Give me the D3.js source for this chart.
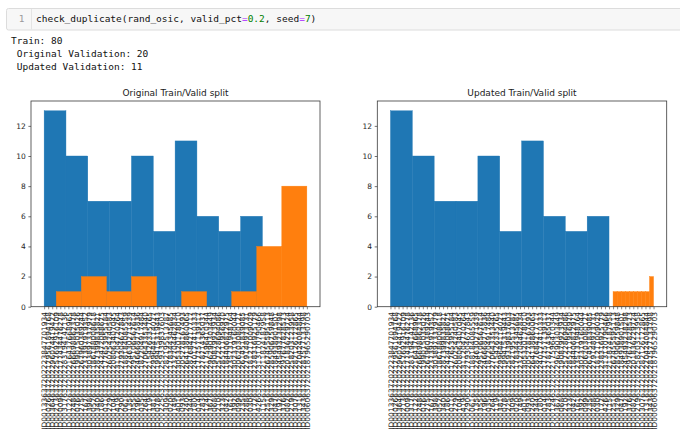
<!DOCTYPE html>
<html>
<head>
<meta charset="utf-8">
<script src="https://cdn.jsdelivr.net/npm/d3@7"></script>
<style>
  html, body { margin: 0; padding: 0; background: #fff; }
  svg { display: block; }
  .mono { font-family: "DejaVu Sans Mono", "Liberation Mono", monospace; white-space: pre; }
</style>
</head>
<body>
<script>
// ---------- data ----------
const patientIds = [
  "ID00133637202223847701934","ID00026637202179561894768","ID00364637202296074419422",
  "ID00213637202257692916109","ID00009637202177434476278","ID00317637202283194142136",
  "ID00122637202216437668965","ID00248637202266698862378","ID00076637202199015035026",
  "ID00275637202267960389244","ID00167637202237397919352","ID00398637202303897337979",
  "ID00052637202186188008618","ID00340637202287399835821","ID00186637202242472088675",
  "ID00011637202177653955184","ID00229637202260254240583","ID00104637202208063407045",
  "ID00419637202311204720264","ID00290637202279304677843","ID00061637202188184085559",
  "ID00135637202224630271439","ID00355637202295106567614","ID00196637202246668775836",
  "ID00035637202182204917484","ID00264637202270643353440","ID00119637202215426335765",
  "ID00381637202299644114027","ID00078637202199415319443","ID00225637202259339837603",
  "ID00309637202282195513787","ID00020637202178344345685","ID00149637202232704462834",
  "ID00401637202305320178010","ID00093637202205278167493","ID00240637202264138860065",
  "ID00344637202287684217717","ID00180637202240177410333","ID00014637202177757139317",
  "ID00283637202278714365037","ID00124637202217596410344","ID00367637202296290303449",
  "ID00068637202190879923934","ID00210637202257228694086","ID00323637202285211956970",
  "ID00042637202184406822975","ID00161637202235731948764","ID00392637202302319160044",
  "ID00099637202206203080121","ID00235637202261451839085","ID00288637202279148973731",
  "ID00030637202181211009029","ID00172637202238316925179","ID00426637202313170790466",
  "ID00115637202211874187958","ID00251637202267455595113","ID00329637202285906759848",
  "ID00047637202184938901501","ID00192637202245493238298","ID00376637202297677828573",
  "ID00082637202201836229724","ID00219637202258203123958","ID00307637202282126172865",
  "ID00131637202220424084844","ID00343637202287577133798","ID00060637202187965290703"
];
// histogram counts (10 bins each) and the category-index range each histogram spans
const trainCounts       = [13, 10, 7, 7, 10, 5, 11, 6, 5, 6];
const trainRange        = [0, 54];
const origValidCounts   = [1, 2, 1, 2, 0, 1, 0, 1, 4, 8];
const origValidRange    = [3, 65];
const updValidCounts    = [1, 1, 1, 1, 1, 1, 1, 1, 1, 2];
const updValidRange     = [55, 65];
const yTicks            = [0, 2, 4, 6, 8, 10, 12];
const titles            = ["Original Train/Valid split", "Updated Train/Valid split"];
const codeLine          = "check_duplicate(rand_osic, valid_pct=0.2, seed=7)";
const outputLines       = ["Train: 80", " Original Validation: 20", " Updated Validation: 11"];

// ---------- drawing ----------
const W = 680, H = 446;
const svg = d3.select("body").append("svg").attr("width", W).attr("height", H);

// notebook input cell
svg.append("rect").attr("x", 6.5).attr("y", 8.5).attr("width", 690).attr("height", 21.5)
  .attr("fill", "#f7f7f7").attr("stroke", "#dcdcdc").attr("rx", 2);
svg.append("line").attr("x1", 31.5).attr("x2", 31.5).attr("y1", 9).attr("y2", 29.5)
  .attr("stroke", "#e4e4e4");
svg.append("text").attr("class", "mono").attr("x", 24.5).attr("y", 22)
  .attr("text-anchor", "end").attr("font-size", 9.5).attr("fill", "#9a9a9a").text("1");

const code = svg.append("text").attr("class", "mono").attr("x", 36).attr("y", 22)
  .attr("font-size", 9.5).attr("fill", "#111");
codeLine.split(/(=|\b\d+(?:\.\d+)?\b)/).filter(s => s.length).forEach(tok => {
  let fill = "#111";
  if (tok === "=") fill = "#aa22ff";
  else if (/^\d+(\.\d+)?$/.test(tok)) fill = "#008000";
  code.append("tspan").attr("fill", fill).text(tok);
});

const outBase = [44.3, 57.3, 70.3];
outputLines.forEach((l, i) => {
  svg.append("text").attr("class", "mono").attr("x", 11).attr("y", outBase[i])
    .attr("font-size", 9.5).attr("fill", "#111").text(l);
});

// charts
const nCat = patientIds.length;
const pad = (nCat - 1) * 0.05;
const yMax = d3.max(trainCounts.concat(origValidCounts, updValidCounts)) * 1.05;
const plotTop = 101, plotBottom = 306.7;
const panels = [
  { x0: 31, x1: 320, title: titles[0], valid: origValidCounts, vr: origValidRange },
  { x0: 377.3, x1: 666.7, title: titles[1], valid: updValidCounts, vr: updValidRange }
];
const tickFont = "'DejaVu Sans', sans-serif";

function bins(counts, range) {
  const n = counts.length, w = (range[1] - range[0]) / n;
  return counts.map((c, i) => ({ x0: range[0] + i * w, x1: range[0] + (i + 1) * w, c }));
}

panels.forEach(p => {
  const x = d3.scaleLinear().domain([-pad, nCat - 1 + pad]).range([p.x0, p.x1]);
  const y = d3.scaleLinear().domain([0, yMax]).range([plotBottom, plotTop]);
  const g = svg.append("g");

  const drawHist = (counts, range, color) => {
    g.append("g").selectAll("rect").data(bins(counts, range).filter(b => b.c > 0)).join("rect")
      .attr("x", b => x(b.x0)).attr("width", b => x(b.x1) - x(b.x0))
      .attr("y", b => y(b.c)).attr("height", b => y(0) - y(b.c))
      .attr("fill", color).attr("stroke", color).attr("stroke-width", 0.4);
  };
  drawHist(trainCounts, trainRange, "#1f77b4");
  drawHist(p.valid, p.vr, "#ff7f0e");

  // y axis
  const ya = g.append("g").attr("transform", `translate(${p.x0},0)`)
    .call(d3.axisLeft(y).tickValues(yTicks).tickSize(2.6).tickPadding(2.6));
  ya.select(".domain").remove();
  ya.selectAll("line").attr("stroke", "#333").attr("stroke-width", 0.7);
  ya.selectAll("text").attr("font-family", tickFont).attr("font-size", 7.5).attr("fill", "#262626");

  // x axis
  const xa = g.append("g").attr("transform", `translate(0,${plotBottom})`)
    .call(d3.axisBottom(x).tickValues(d3.range(nCat)).tickFormat(i => patientIds[i])
      .tickSize(2.6).tickPadding(2.6));
  xa.select(".domain").remove();
  xa.selectAll("line").attr("stroke", "#333").attr("stroke-width", 0.6);
  xa.selectAll("text")
    .attr("font-family", tickFont).attr("font-size", 7.5).attr("fill", "#262626")
    .attr("transform", "rotate(-90)")
    .attr("text-anchor", "end")
    .attr("x", -5.2).attr("y", 0).attr("dy", "0.35em");

  // frame
  g.append("rect").attr("x", p.x0).attr("y", plotTop).attr("width", p.x1 - p.x0).attr("height", plotBottom - plotTop)
    .attr("fill", "none").attr("stroke", "#3a3a3a").attr("stroke-width", 0.8);

  // title
  g.append("text").attr("x", (p.x0 + p.x1) / 2).attr("y", 95.5).attr("text-anchor", "middle")
    .attr("font-family", tickFont).attr("font-size", 9).attr("fill", "#1a1a1a").text(p.title);
});
</script>
</body>
</html>
